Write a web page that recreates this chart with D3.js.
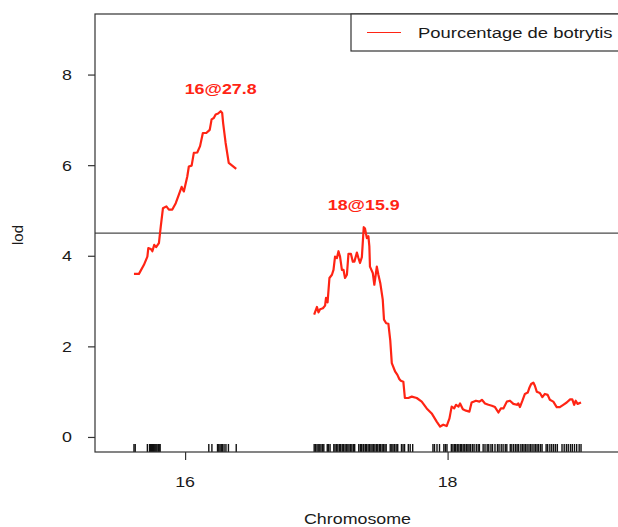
<!DOCTYPE html>
<html>
<head>
<meta charset="utf-8">
<script src="https://cdn.jsdelivr.net/npm/d3@7"></script>
<style>
  html, body { margin: 0; padding: 0; background: #fff; }
  svg { display: block; }
  text { font-family: "Liberation Sans", Arial, Helvetica, sans-serif; }
</style>
</head>
<body>
<svg id="chart" width="618" height="527"></svg>
<script>
// LOD profile along chromosomes 16 and 18 (positions in cM)
const chromosomes = ["16", "18"];

const chr16Pos = [0.0, 1.6, 3.2, 4.3, 4.6, 5.4, 5.9, 6.5, 7.1, 8.0, 8.6, 9.3, 10.4, 11.2, 12.3,
  13.4, 14.4, 15.3, 16.0, 17.1, 17.6, 18.5, 19.2, 20.3, 21.2, 22.1, 23.2, 24.3, 24.9, 25.6,
  26.2, 27.0, 27.8, 28.3, 28.6, 29.4, 30.4, 31.5, 32.8];
const chr16Lod = [3.60, 3.60, 3.80, 3.98, 4.17, 4.15, 4.10, 4.24, 4.19, 4.28, 4.65, 5.05, 5.09, 5.02, 5.02,
  5.16, 5.35, 5.52, 5.42, 5.75, 5.97, 5.99, 6.27, 6.28, 6.42, 6.71, 6.71, 6.78, 7.01, 7.04,
  7.12, 7.14, 7.19, 7.15, 6.93, 6.49, 6.05, 5.99, 5.92];

const chr18Pos = [0.0, 0.9, 1.4, 1.9, 2.8, 3.5, 3.8, 4.3, 4.9, 5.7, 6.2, 6.7, 7.3, 7.8, 8.3,
  8.9, 9.4, 9.9, 10.5, 11.0, 11.8, 12.4, 12.9, 13.7, 14.2, 14.7, 15.3, 15.9, 16.3, 16.9,
  17.4, 17.7, 17.9, 18.8, 19.3, 20.1, 20.6, 21.2, 22.0, 22.4, 23.1, 23.8, 24.4, 24.9, 26.0,
  26.7, 27.3, 27.8, 28.6, 29.1, 30.2, 31.3, 32.9, 34.5, 36.1, 37.7, 39.3, 40.4, 41.4, 42.5,
  43.4, 44.1, 44.9, 45.5, 46.3, 46.8, 47.7, 48.7, 49.8, 50.5, 51.9, 53.0, 53.8, 54.8, 55.9,
  57.0, 58.0, 59.1, 59.9, 60.7, 61.8, 62.8, 63.9, 65.0, 65.5, 66.0, 66.8, 67.6, 68.5, 69.0,
  69.6, 70.3, 70.8, 71.4, 72.4, 73.2, 74.0, 74.9, 75.6, 76.7, 77.8, 78.8, 79.9, 81.0, 82.1,
  82.8, 83.4, 83.9, 84.5, 85.6];
const chr18Lod = [2.70, 2.87, 2.75, 2.82, 2.84, 2.90, 3.07, 2.97, 3.51, 3.58, 3.69, 3.98, 3.95, 4.10, 3.98,
  3.69, 3.69, 3.51, 3.58, 4.04, 4.04, 3.87, 3.87, 4.07, 3.95, 3.84, 3.97, 4.63, 4.60, 4.39,
  4.43, 4.21, 3.76, 3.62, 3.36, 3.76, 3.58, 3.40, 3.03, 2.59, 2.51, 2.50, 2.14, 1.63, 1.44,
  1.37, 1.28, 1.24, 1.22, 0.86, 0.86, 0.89, 0.86, 0.78, 0.63, 0.52, 0.34, 0.23, 0.27, 0.24,
  0.41, 0.67, 0.63, 0.71, 0.67, 0.74, 0.61, 0.58, 0.56, 0.76, 0.80, 0.78, 0.82, 0.74, 0.71,
  0.69, 0.66, 0.54, 0.63, 0.63, 0.78, 0.80, 0.73, 0.71, 0.74, 0.66, 0.80, 0.95, 0.98, 1.08,
  1.17, 1.20, 1.13, 1.00, 0.97, 0.88, 0.95, 0.93, 0.82, 0.78, 0.66, 0.66, 0.71, 0.76, 0.83,
  0.83, 0.71, 0.80, 0.73, 0.76];

// Genetic markers (rug along the bottom axis)
const chr16Markers = [0.0, 0.4, 4.3, 5.0, 5.3, 5.6, 5.9, 6.2, 6.5, 6.8, 7.1, 7.4, 7.8, 8.1, 8.4,
  24.0, 25.0, 26.8, 27.2, 27.6, 28.0, 28.4, 28.9, 29.5, 30.3, 32.8];
const chr18Markers = [0.0, 0.4, 0.9, 1.3, 1.8, 2.2, 2.7, 3.1, 4.2, 4.6, 5.1, 6.3, 6.7, 7.2, 7.6,
  8.1, 8.5, 9.0, 9.4, 9.9, 10.3, 10.8, 11.2, 11.7, 12.1, 12.6, 13.0, 14.3, 14.8, 15.2, 15.7,
  15.9, 16.4, 16.8, 17.3, 17.7, 18.2, 18.6, 19.1, 19.5, 20.0, 20.4, 20.9, 21.3, 21.8, 22.2,
  22.7, 23.1, 24.4, 24.9, 25.3, 25.8, 26.3, 26.8, 28.0, 28.5, 29.0, 30.2, 30.8, 31.6,
  38.1, 38.6, 39.4, 40.2, 41.6, 42.1, 42.6, 44.0, 44.5, 45.0, 45.4, 45.9, 46.4, 46.9, 47.3,
  47.8, 48.3, 48.8, 49.3, 49.7, 50.2, 50.8, 51.3, 52.0, 52.6, 53.0, 54.2, 54.8, 55.5, 56.0,
  56.7, 57.2, 58.0, 58.8, 59.3, 60.0, 60.6, 61.3, 61.8, 62.9, 63.4, 64.0, 64.6, 65.1, 65.6,
  66.3, 66.8, 67.3, 67.8, 68.3, 68.9, 69.4, 69.9, 70.5, 71.0, 71.5, 72.0, 72.6, 73.1, 74.4,
  74.9, 75.6, 76.2, 76.8, 77.4, 78.0, 79.5, 80.2, 80.9, 81.5, 82.2, 82.8, 83.5, 84.2, 85.0, 85.6];

// Peak annotations: chromosome, position (cM), LOD
const peakChr = ["16", "18"];
const peakPos = [27.8, 15.9];
const peakLod = [7.19, 4.63];

const yTicks = [0, 2, 4, 6, 8];
const threshold = 4.5;
const legendLabel = "Pourcentage de botrytis";
const xTitle = "Chromosome";
const yTitle = "lod";

// ---- layout ----
const svg = d3.select("#chart");
const plot = { left: 95, right: 620, top: 14, bottom: 452 };
const gap = 25;
const red = "#ff2414";
const ink = "#1a1a1a";
const stretch = 1.19; // horizontal text scaling

const chrData = {
  "16": { pos: chr16Pos, lod: chr16Lod, markers: chr16Markers },
  "18": { pos: chr18Pos, lod: chr18Lod, markers: chr18Markers }
};

// cumulative offsets so chromosomes sit side by side with a gap
let offset = 0;
chromosomes.forEach(c => {
  const d = chrData[c];
  d.len = d3.max(d.pos);
  d.offset = offset;
  offset += d.len + gap;
});
const totalEnd = offset - gap;

const x = d3.scaleLinear()
  .domain([-gap / 2, totalEnd + gap / 2])
  .range([plot.left, plot.right]);
const y = d3.scaleLinear()
  .domain([-0.332, 9.337])
  .range([plot.bottom, plot.top]);

function stretchedText(g, tx, ty, str, opts) {
  const t = g.append("g").attr("transform", `translate(${tx},${ty}) scale(${stretch},1)`)
    .append("text")
    .attr("x", 0).attr("y", 0)
    .attr("text-anchor", opts.anchor || "middle")
    .attr("font-size", opts.size || 15)
    .attr("font-weight", opts.weight || "normal")
    .attr("fill", opts.fill || ink)
    .text(str);
  return t;
}

// threshold line
svg.append("line")
  .attr("x1", plot.left).attr("x2", plot.right)
  .attr("y1", y(threshold)).attr("y2", y(threshold))
  .attr("stroke", "#4a4a4a").attr("stroke-width", 1.2);

// LOD curves
const line = d3.line().x(d => d[0]).y(d => d[1]);
chromosomes.forEach(c => {
  const d = chrData[c];
  const pts = d.pos.map((p, i) => [x(d.offset + p), y(d.lod[i])]);
  svg.append("path")
    .attr("d", line(pts))
    .attr("fill", "none")
    .attr("stroke", red)
    .attr("stroke-width", 2.2)
    .attr("stroke-linejoin", "round");
});

// marker rug
chromosomes.forEach(c => {
  const d = chrData[c];
  svg.append("g").selectAll("line").data(d.markers).join("line")
    .attr("x1", m => x(d.offset + m)).attr("x2", m => x(d.offset + m))
    .attr("y1", plot.bottom - 8).attr("y2", plot.bottom)
    .attr("stroke", "#111").attr("stroke-width", 1.4);
});

// plot frame
svg.append("rect")
  .attr("x", plot.left).attr("y", plot.top)
  .attr("width", plot.right - plot.left).attr("height", plot.bottom - plot.top)
  .attr("fill", "none").attr("stroke", "#333").attr("stroke-width", 1.2);

// y axis
const yAxis = d3.axisLeft(y).tickValues(yTicks).tickSize(7).tickFormat(() => "");
const yg = svg.append("g").attr("transform", `translate(${plot.left},0)`).call(yAxis);
yg.select(".domain").remove();
yg.selectAll(".tick line").attr("stroke", "#333").attr("stroke-width", 1.2);
yTicks.forEach(v => stretchedText(svg, 67, y(v) + 5.5, String(v), {}));

// x axis: one tick in the middle of each chromosome
const mids = chromosomes.map(c => chrData[c].offset + chrData[c].len / 2);
const xAxis = d3.axisBottom(x).tickValues(mids).tickSize(8).tickFormat(() => "");
const xg = svg.append("g").attr("transform", `translate(0,${plot.bottom})`).call(xAxis);
xg.select(".domain").remove();
xg.selectAll(".tick line").attr("stroke", "#333").attr("stroke-width", 1.2);
chromosomes.forEach((c, i) => stretchedText(svg, x(mids[i]), 487, c, {}));

// axis titles
stretchedText(svg, (plot.left + plot.right) / 2, 524, xTitle, {});
svg.append("text")
  .attr("transform", `translate(23,${(plot.top + plot.bottom) / 2 + 2}) rotate(-90)`)
  .attr("text-anchor", "middle").attr("font-size", 15).attr("fill", ink)
  .text(yTitle);

// peak labels
peakChr.forEach((c, i) => {
  const d = chrData[c];
  stretchedText(svg, x(d.offset + peakPos[i]), y(peakLod[i]) - 17, `${c}@${peakPos[i].toFixed(1)}`,
    { weight: "bold", fill: red, size: 15 });
});

// legend
const lg = svg.append("g");
lg.append("rect")
  .attr("x", 351).attr("y", plot.top)
  .attr("width", plot.right - 351).attr("height", 37)
  .attr("fill", "#fff").attr("stroke", "#333").attr("stroke-width", 1.2);
lg.append("line")
  .attr("x1", 367).attr("x2", 401).attr("y1", 32.5).attr("y2", 32.5)
  .attr("stroke", red).attr("stroke-width", 1.2);
stretchedText(lg, 418, 38, legendLabel, { anchor: "start", size: 15.5 });
</script>
</body>
</html>
